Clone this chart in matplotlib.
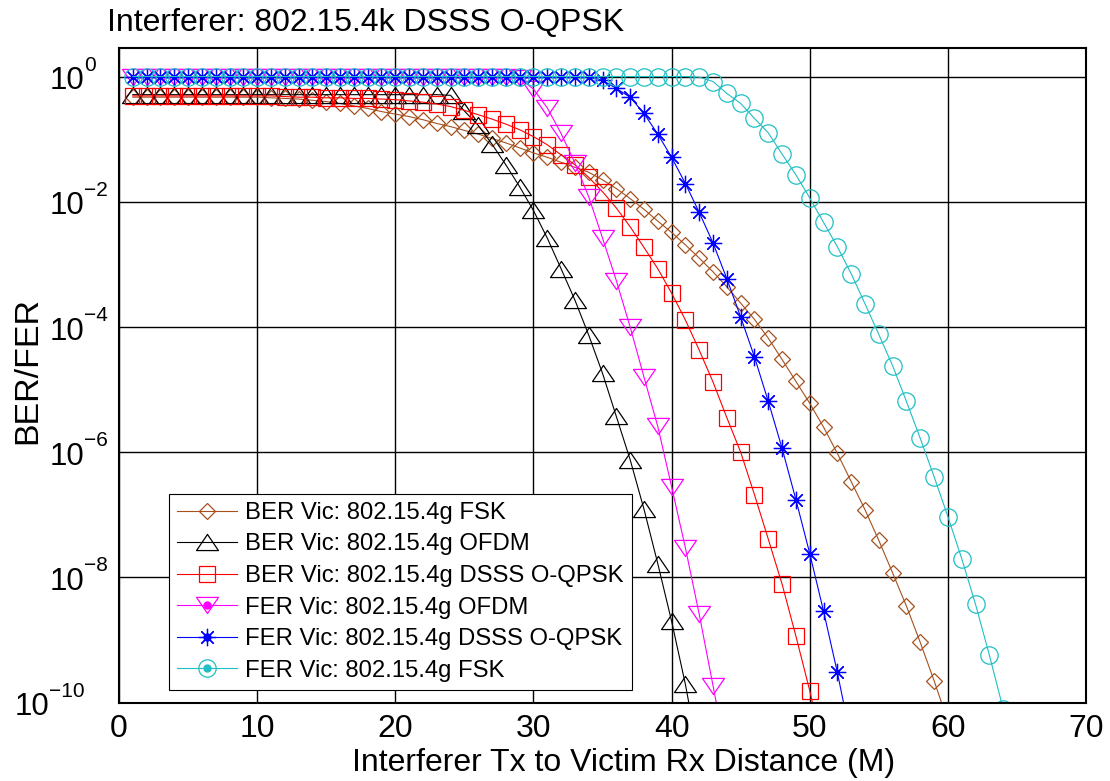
import numpy as np
import matplotlib
matplotlib.use("Agg")
import matplotlib.pyplot as plt
from matplotlib.lines import Line2D
from matplotlib.path import Path
from matplotlib.transforms import offset_copy

plt.rcParams['font.family'] = ['Liberation Sans', 'DejaVu Sans']

# ---- data: log10 of error rate vs. interferer distance (m), starting at 1 m ----
ber_fsk_log = [-0.33, -0.33, -0.33, -0.33, -0.33, -0.33, -0.33, -0.33, -0.33, -0.33,
               -0.34, -0.35, -0.36, -0.38, -0.40, -0.43, -0.47, -0.51, -0.56, -0.60,
               -0.64, -0.69, -0.75, -0.80, -0.86, -0.92, -0.99, -1.06, -1.14, -1.22,
               -1.29, -1.37, -1.45, -1.53, -1.65, -1.79, -1.95, -2.12, -2.31, -2.49,
               -2.69, -2.90, -3.12, -3.36, -3.62, -3.88, -4.18, -4.52, -4.87, -5.22,
               -5.60, -6.02, -6.47, -6.92, -7.41, -7.93, -8.46, -9.04, -9.65, -10.3]
ber_ofdm_log = [-0.29, -0.29, -0.29, -0.29, -0.29, -0.29, -0.29, -0.29, -0.29, -0.29,
                -0.29, -0.29, -0.29, -0.29, -0.29, -0.29, -0.29, -0.29, -0.29, -0.29,
                -0.29, -0.29, -0.29, -0.30, -0.55, -0.78, -1.08, -1.41, -1.76, -2.14,
                -2.58, -3.07, -3.57, -4.13, -4.74, -5.43, -6.12, -6.91, -7.78, -8.70,
                -9.71, -10.9]
ber_dsss_log = [-0.31, -0.31, -0.31, -0.31, -0.31, -0.31, -0.31, -0.31, -0.31, -0.31,
                -0.31, -0.32, -0.33, -0.33, -0.34, -0.34, -0.35, -0.35, -0.36, -0.37,
                -0.39, -0.41, -0.44, -0.48, -0.54, -0.61, -0.68, -0.76, -0.85, -0.96,
                -1.09, -1.25, -1.41, -1.61, -1.84, -2.10, -2.40, -2.73, -3.07, -3.46,
                -3.89, -4.37, -4.88, -5.45, -6.00, -6.68, -7.39, -8.11, -8.94, -9.81,
                -10.8]
fer_ofdm_log = [0.0, 0.0, 0.0, 0.0, 0.0, 0.0, 0.0, 0.0, 0.0, 0.0,
                0.0, 0.0, 0.0, 0.0, 0.0, 0.0, 0.0, 0.0, 0.0, 0.0,
                0.0, 0.0, 0.0, 0.0, 0.0, 0.0, 0.0, 0.0, -0.03, -0.20,
                -0.50, -0.91, -1.38, -1.92, -2.58, -3.26, -4.00, -4.80, -5.59, -6.55,
                -7.53, -8.59, -9.73, -10.9]
fer_dsss_log = [0.0, 0.0, 0.0, 0.0, 0.0, 0.0, 0.0, 0.0, 0.0, 0.0,
                0.0, 0.0, 0.0, 0.0, 0.0, 0.0, 0.0, 0.0, 0.0, 0.0,
                0.0, 0.0, 0.0, 0.0, 0.0, 0.0, 0.0, 0.0, 0.0, 0.0,
                0.0, 0.0, 0.0, -0.01, -0.06, -0.19, -0.33, -0.59, -0.92, -1.29,
                -1.71, -2.17, -2.66, -3.23, -3.84, -4.48, -5.19, -5.94, -6.76, -7.62,
                -8.54, -9.52, -10.6]
fer_fsk_log = [0.0, 0.0, 0.0, 0.0, 0.0, 0.0, 0.0, 0.0, 0.0, 0.0,
               0.0, 0.0, 0.0, 0.0, 0.0, 0.0, 0.0, 0.0, 0.0, 0.0,
               0.0, 0.0, 0.0, 0.0, 0.0, 0.0, 0.0, 0.0, 0.0, 0.0,
               0.0, 0.0, 0.0, 0.0, 0.0, 0.0, 0.0, 0.0, 0.0, 0.0,
               0.0, -0.01, -0.08, -0.27, -0.43, -0.67, -0.90, -1.24, -1.57, -1.94,
               -2.33, -2.72, -3.15, -3.63, -4.12, -4.62, -5.19, -5.78, -6.39, -7.03,
               -7.70, -8.43, -9.24, -10.1]

labels = ["BER Vic: 802.15.4g FSK",
          "BER Vic: 802.15.4g OFDM",
          "BER Vic: 802.15.4g DSSS O-QPSK",
          "FER Vic: 802.15.4g OFDM",
          "FER Vic: 802.15.4g DSSS O-QPSK",
          "FER Vic: 802.15.4g FSK"]
x_ticks = [0, 10, 20, 30, 40, 50, 60, 70]
y_tick_exps = [0, -2, -4, -6, -8, -10]

# ---- marker shapes (wide triangles) ----
tri_up = Path([(0, 0.5), (-0.68, -0.5), (0.68, -0.5), (0, 0.5)],
              [Path.MOVETO, Path.LINETO, Path.LINETO, Path.CLOSEPOLY])
tri_dn = Path([(0, -0.5), (-0.68, 0.5), (0.68, 0.5), (0, -0.5)],
              [Path.MOVETO, Path.LINETO, Path.LINETO, Path.CLOSEPOLY])

brown = '#A5501E'
cyan = '#1FBFC4'
styles = [
    dict(color=brown, marker='D', ms=8.2),
    dict(color='black', marker=tri_up, ms=15.8),
    dict(color='#FF0000', marker='s', ms=11.0),
    dict(color='#FF00FF', marker=tri_dn, ms=15.8),
    dict(color='#0000FF', marker=(8, 2, 0), ms=12.5),
    dict(color=cyan, marker='o', ms=12.5),
]
series = [ber_fsk_log, ber_ofdm_log, ber_dsss_log, fer_ofdm_log, fer_dsss_log, fer_fsk_log]

fig = plt.figure(figsize=(11.10, 7.81), dpi=100)
ax = fig.add_axes([0.1072, 0.1005, 0.8712, 0.8384])

handles = []
for i, (vals, st) in enumerate(zip(series, styles)):
    d = np.arange(1, len(vals) + 1)
    y = 10.0 ** np.asarray(vals)
    ln, = ax.plot(d, y, color=st['color'], lw=0.8, marker=st['marker'],
                  ms=st['ms'], mfc='none', mec=st['color'], mew=0.9,
                  label=labels[i])
    if i >= 3:
        dot = Line2D([], [], color=st['color'], marker='o', ms=5, lw=0,
                     mfc=st['color'], mec=st['color'])
        handles.append((ln, dot))
    else:
        handles.append(ln)

ax.set_yscale('log')
ax.set_xlim(0, 70)
ax.set_ylim(1e-10, 10 ** 0.46)
ax.set_xticks(x_ticks)
ax.set_xticklabels([str(v) for v in x_ticks])
ax.set_yticks([10.0 ** e for e in y_tick_exps])
ax.yaxis.set_minor_locator(matplotlib.ticker.NullLocator())
ax.tick_params(axis='both', length=0)
ax.tick_params(axis='x', labelsize=23, pad=8)
ax.tick_params(axis='y', labelleft=False)

# power-of-ten labels: base "10" with a raised exponent
ytrans = ax.get_yaxis_transform()
base_tr = offset_copy(ytrans, fig=fig, x=0, y=-9.1, units='points')
sup_tr = offset_copy(ytrans, fig=fig, x=0, y=4.3, units='points')
for e in y_tick_exps:
    xr = (84.5 - 119) / 967 if e > -10 else (49.0 - 119) / 967
    ax.text(xr, 10.0 ** e, '10', transform=base_tr, fontsize=22.5,
            ha='right', va='baseline', clip_on=False)
    sup = '0' if e == 0 else '\u2212%d' % (-e)
    ax.text(xr - 0.0005, 10.0 ** e, sup, transform=sup_tr, fontsize=15,
            ha='left', va='baseline', clip_on=False)

ax.set_axisbelow(True)
ax.grid(True, color='black', lw=1.0)
for sp in ax.spines.values():
    sp.set_linewidth(1.5)
    sp.set_color('black')

ax.set_xlabel('Interferer Tx to Victim Rx Distance (M)', fontsize=23)
ax.xaxis.set_label_coords(0.5217, -0.0700)
ax.xaxis.label.set_va('top')
ax.set_ylabel('BER/FER', fontsize=24.5)
ax.yaxis.set_label_coords(-0.0786, 0.507)

fig.text(107 / 1110, 1 - 30.7 / 781, 'Interferer: 802.15.4k DSSS O-QPSK',
         fontsize=23, ha='left', va='baseline')

leg = ax.legend(handles, labels, loc='lower left', bbox_to_anchor=(0.0517, 0.019),
                borderaxespad=0, fontsize=17.2, handlelength=2.5, handletextpad=0.32,
                borderpad=0.35, labelspacing=0.40, numpoints=1, fancybox=False,
                framealpha=1, edgecolor='black')
leg.get_frame().set_linewidth(0.8)

fig.savefig('out.png', dpi=100)
